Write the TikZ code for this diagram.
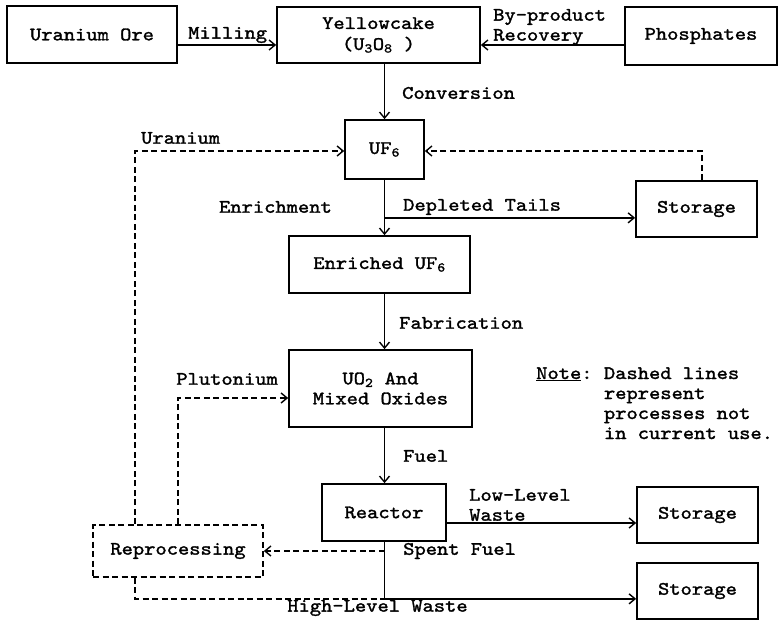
\documentclass[tikz,border=0pt]{standalone}
\usepackage{fontspec}
\newfontfamily\tw{lmmono10-regular.otf}[FakeBold=1.6,FakeStretch=1.13]
\usetikzlibrary{arrows.meta,calc}
\begin{document}
\begin{tikzpicture}[x=1pt,y=-1pt,
  txt/.style={font=\tw\fontsize{19}{20}\selectfont},
  box/.style={txt,draw,line width=1.7pt,rectangle,inner sep=0pt,align=center},
  conn/.style={line width=1.5pt,-{Straight Barb[length=6pt,width=10pt,line width=1.4pt]}},
  dsh/.style={dash pattern=on 6pt off 3.5pt},
  lab/.style={txt,inner sep=0pt,align=left}]
\useasboundingbox (0,0) rectangle (779,620);
% boxes
\node[box,minimum width=170pt,minimum height=57pt] (ore) at (92,34.5) {Uranium Ore};
\node[box,minimum width=203pt,minimum height=56pt] (yc) at (378.5,35) {Yellowcake\\[1pt](U\textsubscript{3}O\textsubscript{8} )};
\node[box,minimum width=152pt,minimum height=58pt] (phos) at (701,36) {Phosphates};
\node[box,minimum width=79pt,minimum height=59pt] (uf6) at (384.5,149.5) {UF\textsubscript{6}};
\node[box,minimum width=121pt,minimum height=56pt] (st1) at (696.5,209) {Storage};
\node[box,minimum width=181pt,minimum height=57pt] (euf6) at (379.5,264.5) {Enriched UF\textsubscript{6}};
\node[box,minimum width=183pt,minimum height=77pt] (uo2) at (380.5,388.5) {UO\textsubscript{2} And\\Mixed Oxides};
\node[box,minimum width=124pt,minimum height=57pt] (reac) at (384,512.5) {Reactor};
\node[box,minimum width=121pt,minimum height=56pt] (st2) at (697.5,515) {Storage};
\node[box,dsh,minimum width=170pt,minimum height=52pt] (rep) at (178,551) {Reprocessing};
\node[box,minimum width=121pt,minimum height=56pt] (st3) at (697.5,591) {Storage};
% coordinates
\coordinate (tr) at (uf6.center);
\coordinate (m) at ($(ore.east)+(0,10.5)$);
\coordinate (bp) at ($(phos.west)+(0,9)$);
\coordinate (rl) at ($(rep.north)+(-43,0)$);
\coordinate (rb) at ($(rep.south)+(-43,0)$);
\coordinate (uin) at ($(uf6.west)+(0,1.5)$);
\coordinate (sl) at ($(st1.north)+(5.5,0)$);
\coordinate (sin) at ($(uf6.east)+(0,1.5)$);
\coordinate (dt) at ($(uf6.south)+(0,38)$);
\coordinate (pin) at ($(uo2.west)+(0,9.5)$);
\coordinate (lw) at ($(reac.east)+(0,10.5)$);
\coordinate (sf) at (tr |- rep.east);
\coordinate (rs) at (tr |- reac.south);
\coordinate (hl) at ($(rs)+(0,57)$);
% connectors
\draw[conn] (m) -- (m -| yc.west);
\draw[conn] (bp) -- (bp -| yc.east);
\draw[conn] (tr |- yc.south) -- (uf6.north);
\draw[conn,dsh] (rl) |- (uin);
\draw[conn,dsh] (sl) |- (sin);
\draw[conn] (uf6.south) -- (tr |- euf6.north);
\draw[conn] (dt) -- (dt -| st1.west);
\draw[conn] (tr |- euf6.south) -- (tr |- uo2.north);
\draw[conn,dsh] (rep.north) |- (pin);
\draw[conn] (tr |- uo2.south) -- (tr |- reac.north);
\draw[conn] (lw) -- (lw -| st2.west);
\draw[conn,dsh] (sf) -- (rep.east);
\draw[conn] (rs) -- (hl) -- (hl -| st3.west);
\draw[line width=1.5pt,dsh] (rb) |- (hl);
% labels
\node[lab,anchor=west] (lmill) at (188,35) {Milling};
\node[lab,anchor=west] (lbyp) at (493,27) {By-product\\Recovery};
\node[lab,anchor=west] (lconv) at (402,93) {Conversion};
\node[lab,anchor=west] (lur) at (141,138) {Uranium};
\node[lab,anchor=east] (lenr) at (332,207) {Enrichment};
\node[lab,anchor=west] (ldep) at (403,207) {Depleted Tails};
\node[lab,anchor=west] (lfab) at (399,323) {Fabrication};
\node[lab,anchor=east] (lplu) at (278,379) {Plutonium};
\node[lab,anchor=west] (lnote) at (536,405) {\begin{tabular}{@{}l@{\hspace{0.6em}}l@{}}\underline{Note}:&Dashed lines\\&represent\\&processes not\\&in current use.\end{tabular}};
\node[lab,anchor=west] (lfuel) at (403,456) {Fuel};
\node[lab,anchor=west] (llow) at (469,505) {Low-Level\\Waste};
\node[lab,anchor=west] (lspent) at (403,551) {Spent Fuel};
\node[lab] (lhigh) at (377.5,608) {High-Level Waste};
\end{tikzpicture}
\end{document}
